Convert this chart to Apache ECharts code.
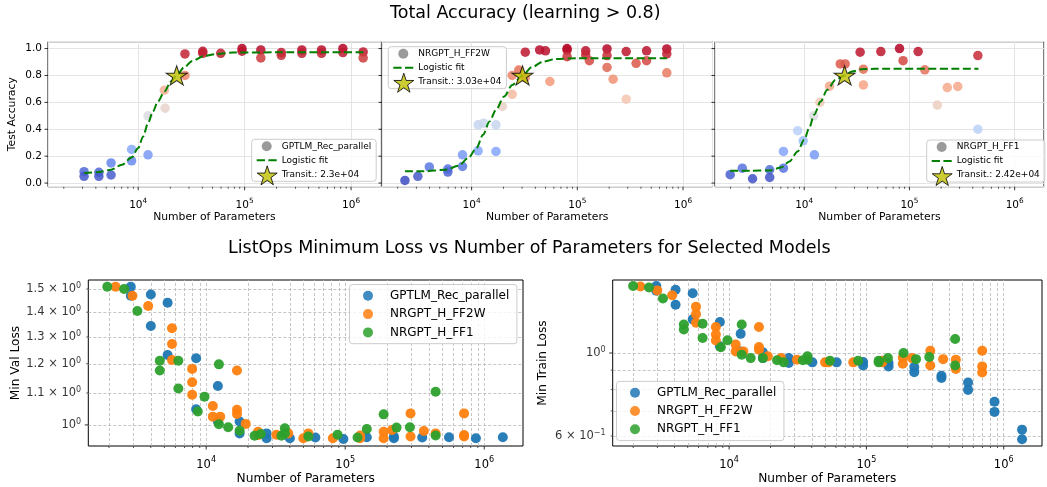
<!DOCTYPE html>
<html><head><meta charset="utf-8">
<script src="https://cdn.jsdelivr.net/npm/echarts@6/dist/echarts.min.js"></script>
<style>html,body{margin:0;padding:0;background:#fff}#c{width:1047px;height:487px}</style>
</head><body><div id="c"></div>
<script>
// ---------------- data ----------------
const accGPT = [[3100,0.085],[3100,0.05],[4270,0.08],[4270,0.05],[5560,0.15],[5560,0.06],[8670,0.25],[8670,0.165],[12370,0.50],[12370,0.21],[17900,0.557],[17600,0.69],[27500,0.96],[27500,0.80],[40400,0.98],[40400,0.965],[59600,0.965],[94500,1.0],[94500,0.98],[142000,0.99],[142000,0.93],[221000,0.97],[221000,0.95],[345000,0.99],[345000,0.965],[528000,0.99],[528000,0.965],[838000,1.0],[838000,0.97],[1300000,0.975],[1300000,0.93]];
const accFF2W = [[2340,0.02],[3100,0.05],[3980,0.12],[5960,0.104],[5960,0.082],[8200,0.21],[8200,0.124],[11520,0.433],[11520,0.24],[13000,0.445],[17000,0.433],[17000,0.235],[19500,0.57],[24200,0.66],[24200,0.80],[27900,0.84],[32200,0.973],[32200,0.785],[44000,0.99],[50000,0.983],[55000,0.755],[80000,1.0],[80000,0.99],[80000,0.94],[120000,0.983],[120000,0.953],[130000,0.91],[191000,0.997],[191000,0.948],[191000,0.86],[218000,0.772],[290000,0.978],[290000,0.624],[360000,0.89],[452000,0.983],[452000,0.91],[702000,0.997],[702000,0.96],[702000,0.82]];
const accFF1 = [[1980,0.062],[2580,0.111],[3230,0.032],[4700,0.099],[4700,0.042],[6350,0.235],[6350,0.111],[8660,0.389],[9780,0.314],[12300,0.50],[12500,0.21],[14100,0.60],[17400,0.72],[22000,0.886],[24500,0.886],[36500,0.847],[36500,0.73],[34000,0.973],[53500,0.978],[80500,1.0],[87000,0.91],[121000,0.978],[140000,0.842],[184000,0.58],[229000,0.71],[288000,0.718],[447000,0.948],[447000,0.40]];

const fitGPT = [[3105,0.074],[4276,0.082],[5560,0.099],[7016,0.136],[8670,0.19],[10000,0.26],[11120,0.347],[12370,0.446],[13750,0.532],[15300,0.606],[17630,0.68],[20300,0.755],[23000,0.80],[27000,0.861],[32200,0.908],[41200,0.943],[54700,0.960],[78000,0.970],[200000,0.972],[1330000,0.972]];
const fitFF2W = [[2340,0.087],[3450,0.087],[5680,0.099],[7530,0.129],[9310,0.186],[11120,0.26],[12820,0.359],[14760,0.458],[17010,0.545],[20300,0.644],[24240,0.73],[30300,0.80],[37060,0.861],[47500,0.903],[63100,0.923],[103500,0.928],[702000,0.928]];
const fitFF1 = [[1980,0.092],[3050,0.092],[4700,0.094],[6040,0.116],[7230,0.161],[8660,0.235],[10000,0.322],[11140,0.408],[12410,0.507],[14330,0.606],[16540,0.693],[19810,0.767],[24200,0.80],[28400,0.829],[35200,0.847],[46900,0.849],[453000,0.849]];

const transitGPT = [[23000,0.8]];
const transitFF2W = [[30300,0.8]];
const transitFF1 = [[24200,0.8]];

const valGPT = [[2870,1.51],[2870,1.47],[4000,1.476],[4000,1.343],[5280,1.44],[5280,1.232],[8470,1.22],[8470,1.048],[12140,1.123],[12140,1.01],[17400,1.01],[17400,0.975],[27200,0.975],[27200,0.961],[40000,0.961],[61000,0.963],[97000,0.959],[143000,0.964],[224000,0.966],[224000,0.961],[358000,0.963],[558000,0.964],[871000,0.961],[1360000,0.964]];
const valFF2W = [[2230,1.51],[2950,1.47],[3830,1.426],[5680,1.334],[5680,1.273],[5680,1.214],[7930,1.182],[7930,1.136],[7930,1.094],[11170,1.058],[11170,1.025],[12620,1.025],[16660,1.176],[16660,1.046],[16660,1.033],[19250,1.003],[23600,0.98],[23600,0.97],[32000,0.971],[38900,0.975],[50000,0.961],[54300,0.975],[81500,0.961],[128000,0.969],[128000,0.961],[189000,0.98],[189000,0.961],[217000,0.985],[295000,1.035],[295000,0.966],[368000,0.982],[447000,0.975],[716000,1.035],[716000,0.966],[716000,0.97]];
const valFF1 = [[1945,1.51],[2570,1.50],[3200,1.405],[4640,1.211],[4640,1.176],[6310,1.211],[6310,1.115],[8700,1.041],[9730,1.088],[12350,1.198],[12350,1.002],[14400,0.993],[17400,0.983],[22300,0.968],[24700,0.973],[34800,0.968],[36800,0.99],[36800,0.975],[54300,0.966],[88100,0.971],[122700,0.963],[143000,0.988],[189000,1.032],[234000,0.992],[292000,0.993],[447000,1.104],[447000,0.969]];

const trainGPT = [[2950,1.51],[2950,1.466],[4075,1.475],[4075,1.345],[5430,1.445],[5430,1.23],[8570,1.21],[8570,1.042],[12140,1.125],[12140,1.01],[17620,1.004],[17620,0.969],[27200,0.969],[27200,0.94],[40400,0.944],[60700,0.944],[94600,0.946],[94600,0.926],[145000,0.94],[145000,0.92],[223000,0.917],[223000,0.889],[352000,0.869],[352000,0.857],[550000,0.834],[550000,0.797],[857000,0.741],[857000,0.696],[1360000,0.624],[1360000,0.588]];
const trainFF2W = [[2260,1.506],[3000,1.47],[3850,1.427],[5740,1.33],[5740,1.27],[5740,1.205],[8010,1.173],[8010,1.12],[8010,1.08],[11170,1.053],[11170,1.01],[12700,1.01],[16500,1.173],[16500,1.038],[16500,1.02],[19150,0.98],[23900,0.969],[31200,0.96],[50000,0.944],[52900,0.944],[80200,0.944],[130600,0.944],[130600,0.953],[184000,0.973],[184000,0.936],[215000,0.969],[292000,1.014],[292000,0.926],[362000,0.963],[448000,0.96],[448000,0.906],[697000,1.014],[697000,0.921],[697000,0.887]];
const trainFF1 = [[2000,1.51],[2610,1.496],[3300,1.398],[4680,1.192],[4680,1.156],[6410,1.197],[6410,1.097],[8710,1.036],[9730,1.082],[12360,1.192],[12360,0.99],[14360,0.969],[17620,0.969],[22340,0.956],[24990,0.944],[34450,0.956],[37220,0.98],[37220,0.96],[54300,0.953],[87100,0.953],[122800,0.953],[122800,0.944],[143500,0.969],[186300,1.0],[229800,0.963],[287000,0.976],[442800,1.09],[442800,0.926]];

const majorX = [1e4, 1e5, 1e6];
const minorX = [2e3,3e3,4e3,5e3,6e3,7e3,8e3,9e3,2e4,3e4,4e4,5e4,6e4,7e4,8e4,9e4,2e5,3e5,4e5,5e5,6e5,7e5,8e5,9e5];
const accTicks = [0, 0.2, 0.4, 0.6, 0.8, 1.0];
const valTicks = [1.0, 1.1, 1.2, 1.3, 1.4, 1.5];
const valTickLabels = ['10^0','1.1 × 10^0','1.2 × 10^0','1.3 × 10^0','1.4 × 10^0','1.5 × 10^0'];
const trainTicks = [0.6, 0.7, 0.8, 0.9, 1.0];
const trainTickLabels = ['6 × 10^−1','','','','10^0'];

// ---------------- styling / layout ----------------
const FONT = 'DejaVu Sans';
const X_MIN = 1420, X_MAX = 1.9e6;
const ACC_MIN = -0.027, ACC_MAX = 1.051;
const VAL_MIN = 0.939, VAL_MAX = 1.541;
const TR_MIN = 0.5643, TR_MAX = 1.567;
const COOLWARM = ['#3b4cc0','#6282ea','#8db0fe','#b8d0f9','#dddddd','#f5c4ad','#f49a7b','#de604d','#b40426'];
const TAB = ['#1f77b4','#ff7f0e','#2ca02c'];
const STAR = 'path://M50,0L61.23,34.55L97.55,34.55L68.16,55.9L79.39,90.45L50,69.1L20.61,90.45L31.84,55.9L2.45,34.55L38.77,34.55Z';
const DASH_ICON = 'path://M0,0h8.3v2h-8.3z M11.7,0h8.3v2h-8.3z';

const topPanels = [
  {model:'GPTLM_Rec_parallel', acc:accGPT, fit:fitGPT, star:transitGPT, starLabel:'Transit.: 2.3e+04',
   grid:{left:48, top:41.7, width:332.7, height:145}, legend:{left:251.7, top:139.3}, yLabels:true},
  {model:'NRGPT_H_FF2W', acc:accFF2W, fit:fitFF2W, star:transitFF2W, starLabel:'Transit.: 3.03e+04',
   grid:{left:382, top:41.7, width:330.5, height:145}, legend:{left:388.3, top:46.7}, yLabels:false},
  {model:'NRGPT_H_FF1', acc:accFF1, fit:fitFF1, star:transitFF1, starLabel:'Transit.: 2.42e+04',
   grid:{left:715, top:41.7, width:332.5, height:145}, legend:{left:926.7, top:140}, yLabels:false}
];
const botPanels = [
  {sets:[['GPTLM_Rec_parallel', valGPT],['NRGPT_H_FF2W', valFF2W],['NRGPT_H_FF1', valFF1]],
   yMin:VAL_MIN, yMax:VAL_MAX, ticks:valTicks, labels:valTickLabels, name:'Min Val Loss', nameGap:66,
   grid:{left:88.3, top:280, width:434.7, height:166}, legend:{left:349.5, top:284.5}},
  {sets:[['GPTLM_Rec_parallel', trainGPT],['NRGPT_H_FF2W', trainFF2W],['NRGPT_H_FF1', trainFF1]],
   yMin:TR_MIN, yMax:TR_MAX, ticks:trainTicks, labels:trainTickLabels, name:'Min Train Loss', nameGap:63.5,
   grid:{left:612.7, top:280, width:429.3, height:166}, legend:{left:616.5, top:381.4}}
];

function powLabel(v) {
  const e = Math.log10(v), r = Math.round(e);
  if (Math.abs(e - r) > 1e-6) return '';
  return '{b|10}{s|' + (r < 0 ? '−' + (-r) : r) + '}';
}
function richLabel(s) {
  if (!s) return '';
  const p = s.split('^');
  return '{b|' + p[0] + '}{s|' + p[1] + '}';
}
function xRich(fs, lh) {
  return {b:{fontSize:fs, fontFamily:FONT, color:'#000', lineHeight:lh},
          s:{fontSize:fs*0.7, fontFamily:FONT, color:'#000', lineHeight:fs*0.7, verticalAlign:'top'}};
}
function xTickSeries(gi, yBase) {
  return {type:'scatter', xAxisIndex:gi, yAxisIndex:gi, silent:true, clip:false, z:8, symbol:'rect',
    itemStyle:{color:'#000'},
    data: majorX.map(v => ({value:[v, yBase], symbolSize:[1, 3.5], symbolOffset:[0, 1.75]}))
      .concat(minorX.map(v => ({value:[v, yBase], symbolSize:[0.8, 2], symbolOffset:[0, 1]})))};
}
function yTickSeries(gi, ticks, major) {
  return {type:'scatter', xAxisIndex:gi, yAxisIndex:gi, silent:true, clip:false, z:8, symbol:'rect',
    itemStyle:{color:'#000'},
    data: ticks.map(v => {
      const big = major(v);
      return {value:[X_MIN, v], symbolSize: big ? [3.5, 1] : [2, 0.8], symbolOffset: big ? [-1.75, 0] : [-1, 0]};
    })};
}

const grids = [], xAxes = [], yAxes = [], series = [], legends = [], accIdx = [];

topPanels.forEach((p, i) => {
  grids.push(Object.assign({show:true, borderColor:'#000', borderWidth:1, backgroundColor:'transparent'}, p.grid));
  xAxes.push({type:'log', logBase:10, gridIndex:i, min:X_MIN, max:X_MAX,
    axisLine:{show:false}, axisTick:{show:false},
    axisLabel:{formatter:powLabel, margin:10.5, rich:xRich(10.5, 15.5)},
    splitLine:{show:true, lineStyle:{color:'#e4e4e4', width:1}},
    name:'Number of Parameters', nameLocation:'middle', nameGap:24.8,
    nameTextStyle:{fontSize:10.8, fontFamily:FONT, color:'#000'}});
  yAxes.push({type:'value', gridIndex:i, min:ACC_MIN, max:ACC_MAX, splitNumber:5,
    axisLine:{show:false}, axisTick:{show:false},
    axisLabel:{show:p.yLabels, margin:6, fontSize:10.5, fontFamily:FONT, color:'#000',
      formatter: v => (Math.abs(v*5 - Math.round(v*5)) < 1e-6 ? v.toFixed(1) : '')},
    splitLine:{show:true, lineStyle:{color:'#e4e4e4', width:1}},
    name: p.yLabels ? 'Test Accuracy' : '', nameLocation:'middle', nameGap:30,
    nameTextStyle:{fontSize:10.8, fontFamily:FONT, color:'#000'}});
  series.push(xTickSeries(i, ACC_MIN));
  series.push(yTickSeries(i, accTicks, () => true));
  accIdx.push(series.length);
  series.push({type:'scatter', name:p.model, xAxisIndex:i, yAxisIndex:i, data:p.acc, symbolSize:9.5,
    itemStyle:{opacity:0.85, color:'#888888'}, z:3});
  series.push({type:'line', name:'Logistic fit', xAxisIndex:i, yAxisIndex:i, data:p.fit, symbol:'none',
    smooth:0.3, smoothMonotone:'x', lineStyle:{color:'#008000', width:2, type:[8, 3.5]}, itemStyle:{color:'#008000'}, z:4});
  series.push({type:'scatter', name:p.starLabel, xAxisIndex:i, yAxisIndex:i, data:p.star, symbol:STAR,
    symbolSize:[21, 20], symbolKeepAspect:true, itemStyle:{color:'#bfbf00', borderColor:'#000', borderWidth:1}, z:5});
  legends.push({orient:'vertical', left:p.legend.left, top:p.legend.top, itemWidth:20, itemHeight:10, itemGap:4.5,
    padding:[2,5,2,5], backgroundColor:'rgba(255,255,255,0.8)', borderColor:'#cccccc', borderWidth:1, borderRadius:3,
    selectedMode:false, textStyle:{fontSize:9, fontFamily:FONT, color:'#000'},
    data:[{name:p.model, icon:'circle', itemStyle:{color:'#888888', borderWidth:0}},
          {name:'Logistic fit', icon:DASH_ICON, itemStyle:{color:'#008000', borderWidth:0}},
          {name:p.starLabel, icon:'circle', itemStyle:{color:'rgba(0,0,0,0)', borderWidth:0}}]});
  legends.push({orient:'vertical', left:p.legend.left + 5, top:p.legend.top + 26, itemWidth:20, itemHeight:20,
    padding:0, selectedMode:false, formatter: () => '', textStyle:{fontSize:9},
    data:[{name:p.starLabel, icon:STAR, itemStyle:{color:'#bfbf00', borderColor:'#000', borderWidth:1}}]});
});

botPanels.forEach((p, k) => {
  const gi = 3 + k;
  grids.push(Object.assign({show:true, borderColor:'#000', borderWidth:1, backgroundColor:'transparent'}, p.grid));
  xAxes.push({type:'log', logBase:10, gridIndex:gi, min:X_MIN, max:X_MAX,
    axisLine:{show:false}, axisTick:{show:false},
    axisLabel:{formatter:powLabel, margin:10, rich:xRich(11.5, 18.5)},
    splitLine:{show:false},
    name:'Number of Parameters', nameLocation:'middle', nameGap:27,
    nameTextStyle:{fontSize:12.2, fontFamily:FONT, color:'#000'}});
  yAxes.push({type:'log', logBase:10, gridIndex:gi, min:p.yMin, max:p.yMax,
    axisLine:{show:false}, axisTick:{show:false}, axisLabel:{show:false}, splitLine:{show:false},
    name:p.name, nameLocation:'middle', nameGap:p.nameGap,
    nameTextStyle:{fontSize:12.2, fontFamily:FONT, color:'#000'}});
  // dashed grid lines (major + minor)
  series.push({type:'scatter', xAxisIndex:gi, yAxisIndex:gi, silent:true, data:[[X_MIN, p.yMin]], symbolSize:0, z:1,
    markLine:{silent:true, animation:false, symbol:['none','none'], label:{show:false}, z:1,
      lineStyle:{color:'#b8b8b8', width:0.8, type:[3, 2]},
      data: minorX.concat(majorX).map(v => ({xAxis:v})).concat(p.ticks.map(v => ({yAxis:v})))}});
  series.push(xTickSeries(gi, p.yMin));
  series.push(yTickSeries(gi, p.ticks, v => Math.abs(v - 1) < 1e-9));
  series.push({type:'scatter', xAxisIndex:gi, yAxisIndex:gi, silent:true, clip:false, z:8, symbolSize:1,
    itemStyle:{color:'rgba(0,0,0,0)'},
    data:p.ticks.map(v => [X_MIN, v]),
    label:{show:true, position:'left', distance:6.6, formatter: q => richLabel(p.labels[q.dataIndex]),
      rich:{b:{fontSize:11.5, fontFamily:FONT, color:'#000', lineHeight:14},
            s:{fontSize:8, fontFamily:FONT, color:'#000', lineHeight:8, verticalAlign:'top'}}}});
  p.sets.forEach(([name, data], j) => {
    series.push({type:'scatter', name:name, xAxisIndex:gi, yAxisIndex:gi, data:data, symbolSize:10,
      itemStyle:{color:TAB[j], opacity:0.95}, z:3 + j});
  });
  legends.push({orient:'vertical', left:p.legend.left, top:p.legend.top, itemWidth:34, itemHeight:10, itemGap:6.3,
    padding:[5.3,7.6,5.3,13.5], backgroundColor:'rgba(255,255,255,0.8)', borderColor:'#cccccc', borderWidth:1, borderRadius:3,
    selectedMode:false, textStyle:{fontSize:12, fontFamily:FONT, color:'#000'},
    data:p.sets.map(([name], j) => ({name:name, icon:'circle', itemStyle:{color:TAB[j], borderWidth:0}}))});
});

const option = {
  animation:false,
  backgroundColor:'#ffffff',
  textStyle:{fontFamily:FONT},
  title:[
    {text:'Total Accuracy (learning > 0.8)', left:390, top:4.3, padding:0,
     textStyle:{fontSize:17.5, fontWeight:'normal', fontFamily:FONT, color:'#000'}},
    {text:'ListOps Minimum Loss vs Number of Parameters for Selected Models', left:228, top:239, padding:0,
     textStyle:{fontSize:17.5, fontWeight:'normal', fontFamily:FONT, color:'#000'}}
  ],
  grid:grids, xAxis:xAxes, yAxis:yAxes, legend:legends,
  visualMap:[{type:'continuous', show:false, seriesIndex:accIdx, dimension:1, min:0.02, max:1.0,
    inRange:{color:COOLWARM}}],
  series:series
};
const chart = echarts.init(document.getElementById('c'), null, {renderer:'canvas'});
chart.setOption(option);
</script></body></html>
